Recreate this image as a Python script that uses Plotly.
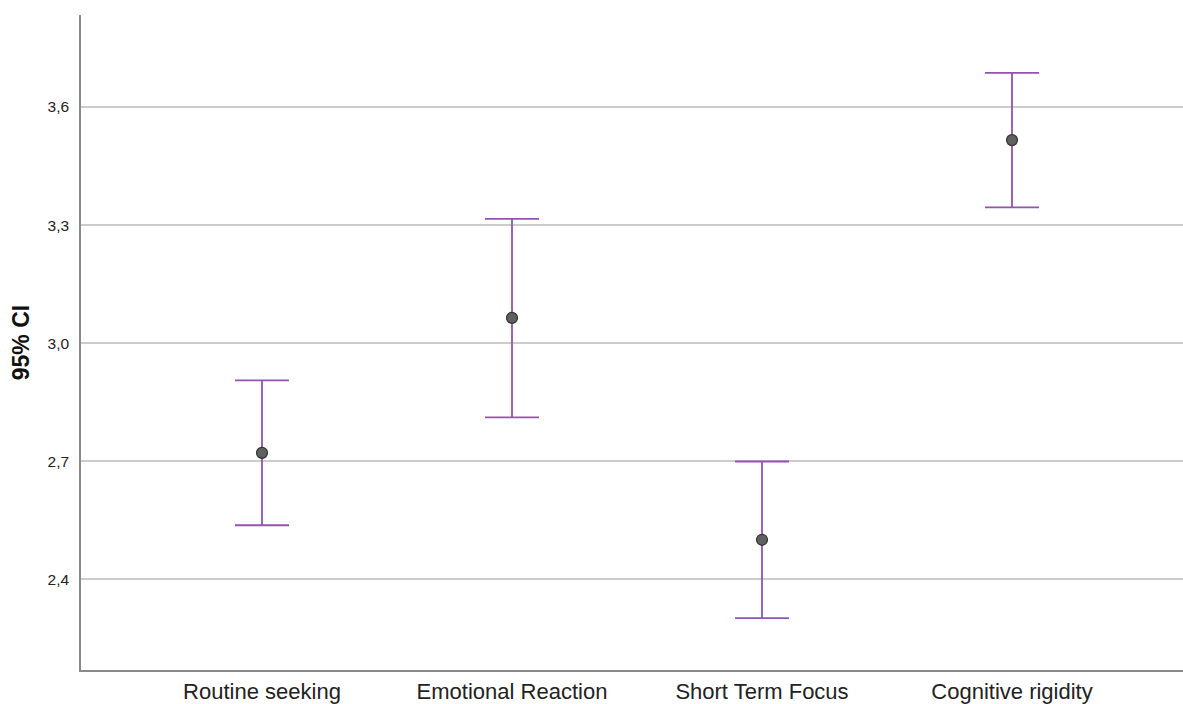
import plotly.graph_objects as go

categories = ["Routine seeking", "Emotional Reaction", "Short Term Focus", "Cognitive rigidity"]
means = [2.721, 3.064, 2.500, 3.516]
upper = [2.905, 3.316, 2.699, 3.687]
lower = [2.537, 2.811, 2.301, 3.345]
y_ticks = [2.4, 2.7, 3.0, 3.3, 3.6]
y_tick_labels = ["2,4", "2,7", "3,0", "3,3", "3,6"]

err_plus = [u - m for u, m in zip(upper, means)]
err_minus = [m - l for m, l in zip(means, lower)]

fig = go.Figure()
fig.add_trace(go.Scatter(
    x=categories, y=means, mode="markers",
    marker=dict(size=11, color="#606060", line=dict(color="#333333", width=1.2)),
    error_y=dict(type="data", symmetric=False, array=err_plus, arrayminus=err_minus,
                 color="#9552b5", thickness=1.8, width=27),
    showlegend=False, hoverinfo="skip",
))

fig.update_layout(
    width=1183, height=704,
    margin=dict(l=81, r=0, t=15, b=34, autoexpand=False),
    paper_bgcolor="white", plot_bgcolor="white",
    font=dict(family="Liberation Sans, Arial, sans-serif", color="#222222"),
    xaxis=dict(
        type="category", range=[-0.724, 3.684],
        showgrid=False, zeroline=False, automargin=False,
        showline=True, linecolor="#8a8a8a", linewidth=1.5,
        ticks="", tickfont=dict(size=22, color="#222222"),
        ticklabelstandoff=1,
    ),
    yaxis=dict(
        range=[2.169, 3.834], automargin=False,
        tickvals=y_ticks, ticktext=y_tick_labels,
        showgrid=True, gridcolor="#cccccc", gridwidth=1.5,
        zeroline=False,
        showline=True, linecolor="#8a8a8a", linewidth=1.5,
        ticks="", tickfont=dict(size=15.5, color="#222222"),
        ticklabelstandoff=7,
        title=dict(text="<b>95% CI</b>", font=dict(size=23, color="#111111"), standoff=12),
    ),
)

fig.write_html("out.html")
